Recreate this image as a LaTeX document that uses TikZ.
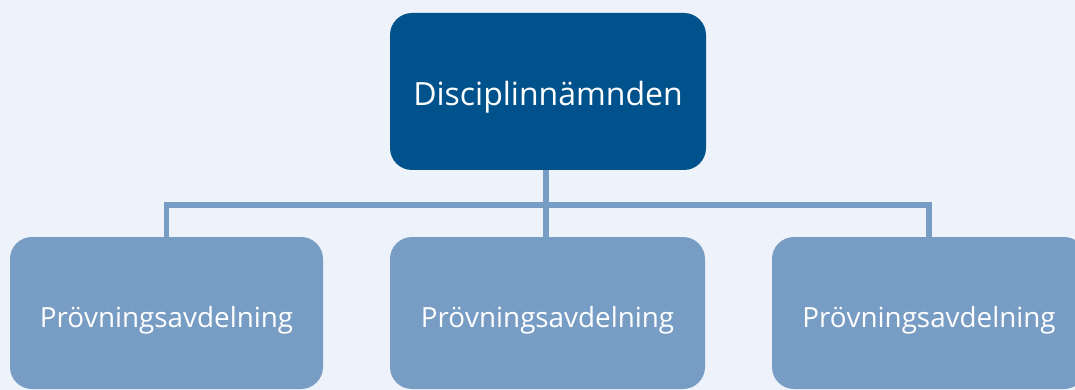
\documentclass[tikz,border=0pt]{standalone}
\usepackage{fontspec}
\setmainfont{Open Sans}
\definecolor{bgc}{RGB}{238,242,250}
\definecolor{topc}{RGB}{0,82,140}
\definecolor{childc}{RGB}{120,157,196}
\tikzset{
  topbox/.style={fill=topc, rounded corners=22pt},
  childbox/.style={fill=childc, rounded corners=22pt},
  toptext/.style={text=white, font=\fontsize{32}{38}\selectfont},
  childtext/.style={text=white, font=\fontsize{27.8}{33}\selectfont},
  conn/.style={draw=childc, line width=5.5pt}
}
\begin{document}
\begin{tikzpicture}[x=1pt,y=-1pt]
\useasboundingbox (0,0) rectangle (1075,390);
\fill[bgc] (0,0) rectangle (1075,390);
% boxes
\fill[topbox] (390,13) rectangle (706,170);
\node[toptext] (top) at (548,97) {Disciplinnämnden};
\coordinate (topb) at (546,170);
\fill[childbox] (10,237) rectangle (323,389);
\fill[childbox] (390,237) rectangle (705,389);
\fill[childbox] (772,237) rectangle (1086,389);
\node[childtext] (c1) at (166.5,320) {Prövningsavdelning};
\node[childtext] (c2) at (547.5,320) {Prövningsavdelning};
\node[childtext] (c3) at (929,320) {Prövningsavdelning};
\coordinate (c1t) at (166.5,237);
\coordinate (c2t) at (546,237);
\coordinate (c3t) at (929,237);
\coordinate (hl) at (166.5,205);
\coordinate (hr) at (929,205);
\draw[conn] (topb) -- (c2t);
\draw[conn] (c1t) -- (hl) -- (hr) -- (c3t);
\end{tikzpicture}
\end{document}
